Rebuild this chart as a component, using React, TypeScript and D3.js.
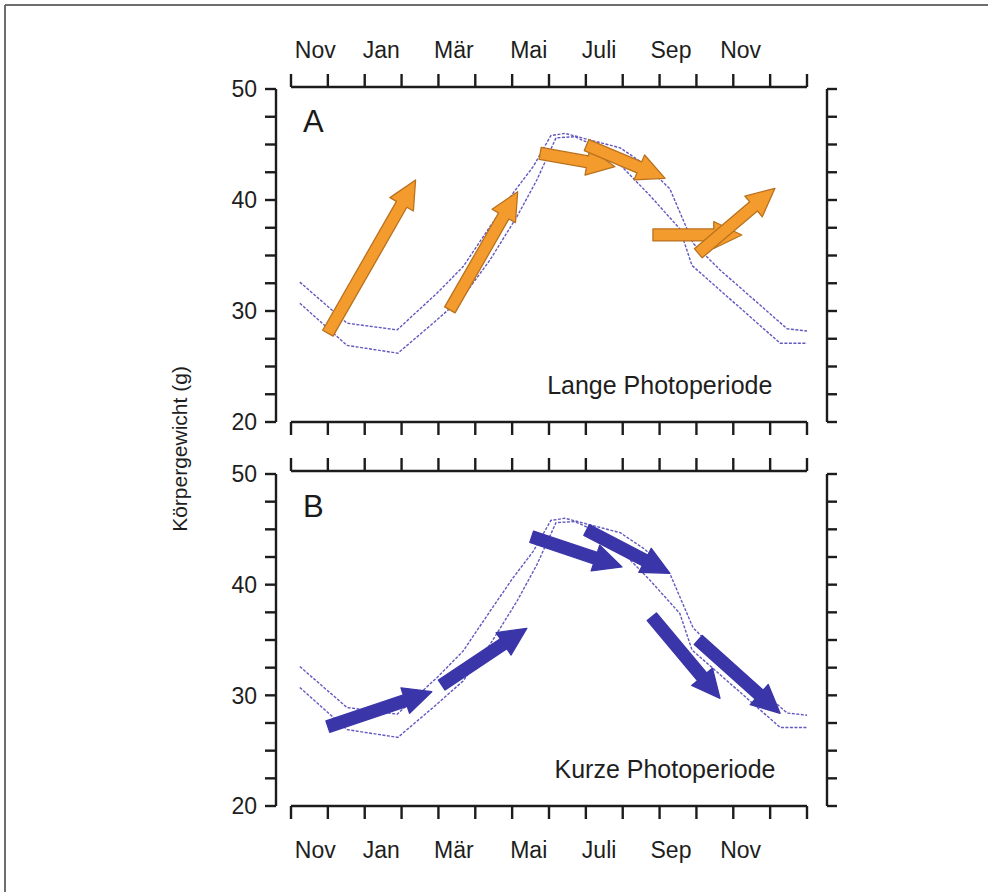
import React from "react";
import * as d3 from "d3";

// ---- data ----
const monthLabels = ["Nov", "Jan", "Mär", "Mai", "Juli", "Sep", "Nov"];
// label centres along the month axis (0 = first Nov tick)
const monthLabelPos = [0.66, 2.45, 4.42, 6.45, 8.36, 10.31, 12.2];
const monthTicks = d3.range(0, 15);
const weightTicks = d3.range(20, 50.01, 2.5);
const weightLabels = [20, 30, 40, 50];

// upper and lower body-weight curves [month, grams]
const upperCurve: [number, number][] = [
  [0.24, 32.6], [1.52, 28.9], [2.88, 28.3], [3.96, 31.6], [4.67, 34.0],
  [5.4, 37.6], [6.02, 40.6], [6.57, 43.0], [7.05, 45.8], [7.43, 46.0],
  [8.47, 45.1], [8.93, 44.7], [9.6, 43.2], [10.28, 41.0], [10.91, 36.1],
  [11.64, 33.7], [13.46, 28.4], [14.0, 28.2],
];
const lowerCurve: [number, number][] = [
  [0.24, 30.7], [1.52, 26.9], [2.9, 26.2], [3.96, 29.2], [4.67, 31.3],
  [5.4, 34.6], [6.13, 38.5], [6.67, 41.8], [7.19, 45.6], [7.7, 45.7],
  [8.57, 44.4], [9.74, 40.4], [10.55, 37.4], [10.88, 34.1], [13.27, 27.1],
  [14.0, 27.1],
];

// arrows: [startMonth, startWeight, endMonth, endWeight]
const arrowsLong: [number, number, number, number][] = [
  [1.0, 28.0, 3.38, 41.8],
  [4.31, 30.1, 6.15, 40.75],
  [6.76, 44.2, 8.79, 43.0],
  [8.02, 44.95, 10.15, 41.95],
  [9.82, 36.85, 12.23, 36.85],
  [11.05, 35.2, 13.13, 41.05],
];
const arrowsShort: [number, number, number, number][] = [
  [1.0, 27.17, 3.82, 30.33],
  [4.09, 30.93, 6.4, 36.06],
  [6.53, 44.33, 8.98, 41.6],
  [8.02, 44.94, 10.28, 41.03],
  [9.79, 37.1, 11.64, 29.73],
  [11.05, 35.0, 13.27, 28.38],
];

const FONT = "'Liberation Sans', Arial, Helvetica, sans-serif";
const AX = "#1c1c1c";

const x = d3.scaleLinear().domain([0, 14]).range([291, 807]);

function arrowPath(x1: number, y1: number, x2: number, y2: number, sw: number, hw: number, hl: number) {
  const dx = x2 - x1, dy = y2 - y1;
  const len = Math.hypot(dx, dy);
  const ux = dx / len, uy = dy / len;
  const nx = -uy, ny = ux;
  const bx = x2 - ux * hl, by = y2 - uy * hl;
  const p = (px: number, py: number, k: number) => `${px + nx * k},${py + ny * k}`;
  return `M${p(x1, y1, sw / 2)}L${p(bx, by, sw / 2)}L${p(bx, by, hw / 2)}L${x2},${y2}L${p(bx, by, -hw / 2)}L${p(bx, by, -sw / 2)}L${p(x1, y1, -sw / 2)}Z`;
}

function Panel({ y, letter, caption, captionPos, arrows, fill, stroke, topAxisY, bottomAxisY }: any) {
  const line = d3.line<[number, number]>().x((d) => x(d[0])).y((d) => y(d[1]));
  const [x0, x1] = x.range();
  const leftX = 276, rightX = 827;
  return (
    <g>
      {/* top month axis */}
      <line x1={x0} x2={x1} y1={topAxisY} y2={topAxisY} stroke={AX} strokeWidth={2.4} />
      {monthTicks.map((m) => (
        <line key={"t" + m} x1={x(m)} x2={x(m)} y1={topAxisY} y2={topAxisY - 13} stroke={AX} strokeWidth={2.4} />
      ))}
      {/* bottom month axis */}
      <line x1={x0} x2={x1} y1={bottomAxisY} y2={bottomAxisY} stroke={AX} strokeWidth={2.4} />
      {monthTicks.map((m) => (
        <line key={"b" + m} x1={x(m)} x2={x(m)} y1={bottomAxisY} y2={bottomAxisY + 13} stroke={AX} strokeWidth={2.4} />
      ))}
      {/* left weight axis */}
      <line x1={leftX} x2={leftX} y1={y(50)} y2={y(20)} stroke={AX} strokeWidth={2.4} />
      {weightTicks.map((w) => (
        <line key={"l" + w} x1={leftX} x2={leftX - 11} y1={y(w)} y2={y(w)} stroke={AX} strokeWidth={2.4} />
      ))}
      {weightLabels.map((w) => (
        <text key={"ll" + w} x={257} y={y(w)} dy="0.36em" textAnchor="end" fontFamily={FONT} fontSize={23} fill="#1e1e1e">
          {w}
        </text>
      ))}
      {/* right weight axis */}
      <line x1={rightX} x2={rightX} y1={y(50)} y2={y(20)} stroke={AX} strokeWidth={2.4} />
      {weightTicks.map((w) => (
        <line key={"r" + w} x1={rightX} x2={rightX + 10} y1={y(w)} y2={y(w)} stroke={AX} strokeWidth={2.4} />
      ))}
      {/* curves */}
      <path d={line(upperCurve) || ""} fill="none" stroke="#6259c0" strokeWidth={1.4} strokeDasharray="3 1.5" />
      <path d={line(lowerCurve) || ""} fill="none" stroke="#6259c0" strokeWidth={1.4} strokeDasharray="3 1.5" />
      {/* arrows */}
      {arrows.map((a: number[], i: number) => (
        <path key={"a" + i} d={arrowPath(x(a[0]), y(a[1]), x(a[2]), y(a[3]), 12, 27, 28)} fill={fill} stroke={stroke} strokeWidth={1.3} strokeLinejoin="round" />
      ))}
      <text x={303} y={y(50) + 43} fontFamily={FONT} fontSize={31} fill="#1a1a1a">{letter}</text>
      <text x={x(captionPos)} y={y(22.5)} fontFamily={FONT} fontSize={25} fill="#1e1e1e">{caption}</text>
    </g>
  );
}

export default function App() {
  const yA = d3.scaleLinear().domain([20, 50]).range([422, 89]);
  const yB = d3.scaleLinear().domain([20, 50]).range([806, 474]);
  return (
    <svg width={988} height={892} style={{ position: "absolute", left: 0, top: 0, background: "#fff" }}>
      <rect x={0} y={0} width={988} height={892} fill="#fff" />
      {/* outer frame */}
      <line x1={5} x2={988} y1={5} y2={5} stroke="#6e6e6e" strokeWidth={2} />
      <line x1={5} x2={5} y1={5} y2={892} stroke="#6e6e6e" strokeWidth={2} />
      {/* top month labels */}
      {monthLabels.map((m, i) => (
        <text key={"tl" + i} x={x(monthLabelPos[i])} y={58} textAnchor="middle" fontFamily={FONT} fontSize={23} fill="#1e1e1e">{m}</text>
      ))}
      <Panel y={yA} letter="A" caption="Lange Photoperiode" captionPos={6.95} arrows={arrowsLong} fill="#f49b2e" stroke="#b9711e" topAxisY={87} bottomAxisY={422} />
      <Panel y={yB} letter="B" caption="Kurze Photoperiode" captionPos={7.15} arrows={arrowsShort} fill="#3a35a8" stroke="#3a35a8" topAxisY={471} bottomAxisY={806} />
      {/* bottom month labels */}
      {monthLabels.map((m, i) => (
        <text key={"bl" + i} x={x(monthLabelPos[i])} y={858} textAnchor="middle" fontFamily={FONT} fontSize={23} fill="#1e1e1e">{m}</text>
      ))}
      <text transform="translate(187,449) rotate(-90)" textAnchor="middle" fontFamily={FONT} fontSize={21} fill="#1e1e1e">Körpergewicht (g)</text>
    </svg>
  );
}
